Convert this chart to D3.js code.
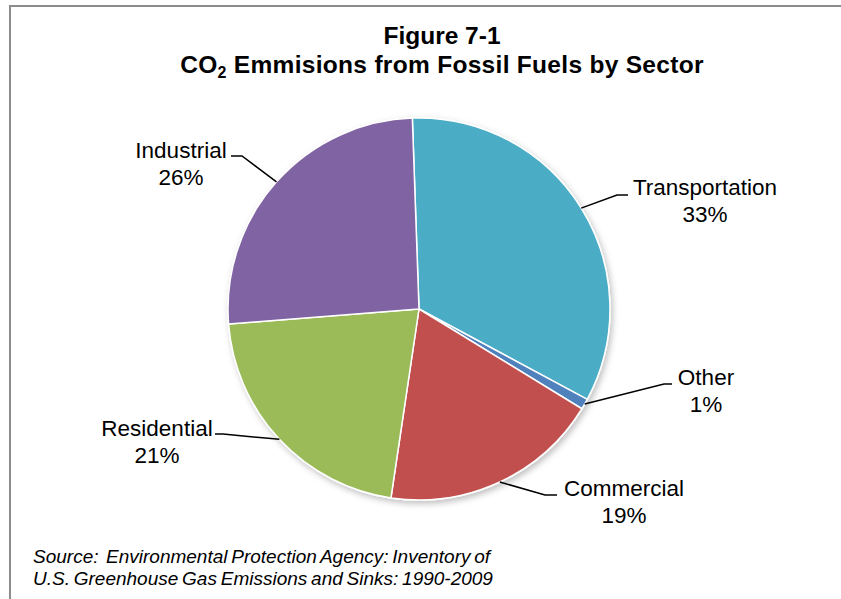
<!DOCTYPE html>
<html>
<head>
<meta charset="utf-8">
<script src="https://cdn.jsdelivr.net/npm/d3@7"></script>
<style>
  body { margin: 0; background: #fff; }
  text { font-family: "Liberation Sans", Arial, sans-serif; fill: #000; }
</style>
</head>
<body>
<script>
// Data
var sectors = ["Transportation", "Other", "Commercial", "Residential", "Industrial"]
var shares = [33.4, 0.9, 18.6, 21.4, 25.7]
var pctLabels = ["33%", "1%", "19%", "21%", "26%"]

var colors = ["#4BACC6", "#4F81BD", "#C0504D", "#9BBB59", "#8064A2"]

// label layout: text centre x, first baseline, leader elbow, leader end
var labelLayout = [
  {tx: 705, ty: 195, elbow: [617, 195], end: [628, 195]},
  {tx: 706, ty: 385, elbow: [664, 384], end: [672, 384]},
  {tx: 624, ty: 496, elbow: [545, 495], end: [557, 495]},
  {tx: 157, ty: 436, elbow: [223, 434], end: [215, 434]},
  {tx: 181, ty: 158, elbow: [242, 156], end: [231, 156]}
]

var width = 841, height = 599
var cx = 419, cy = 309, radius = 191

var svg = d3.select("body")
    .append("svg")
        .attr("width", width)
        .attr("height", height)

// drop shadow
var defs = svg.append("defs")
var f = defs.append("filter").attr("id", "shadow")
    .attr("x", "-10%").attr("y", "-10%").attr("width", "125%").attr("height", "125%")
f.append("feDropShadow")
    .attr("dx", 2).attr("dy", 3).attr("stdDeviation", 3)
    .attr("flood-color", "#000").attr("flood-opacity", 0.25)

// outer frame
svg.append("rect")
    .attr("x", 10).attr("y", 6)
    .attr("width", width + 20).attr("height", height + 20)
    .attr("fill", "none")
    .attr("stroke", "#8c8c8c")
    .attr("stroke-width", 2)

// title
var title = svg.append("text")
    .attr("text-anchor", "middle")
    .attr("font-weight", "bold")
    .attr("font-size", 24.5)
title.append("tspan").attr("x", 442).attr("y", 44).text("Figure 7-1")
var t2 = title.append("tspan").attr("x", 442).attr("y", 73).attr("letter-spacing", 0.3)
t2.append("tspan").text("CO")
t2.append("tspan").attr("font-size", 16).attr("dy", 5).text("2")
t2.append("tspan").attr("dy", -5).text(" Emmisions from Fossil Fuels by Sector")

// pie
var pie = d3.pie()
    .value(d => d)
    .sort(null)
    .startAngle(-2 * Math.PI / 180)
    .endAngle(2 * Math.PI - 2 * Math.PI / 180)

var arcs = pie(shares)

var arc = d3.arc().innerRadius(0).outerRadius(radius)
var edgeArc = d3.arc().innerRadius(radius).outerRadius(radius)

var g = svg.append("g")
    .attr("transform", "translate(" + cx + "," + cy + ")")

g.append("g")
    .attr("filter", "url(#shadow)")
  .selectAll("path")
    .data(arcs)
    .enter().append("path")
    .attr("d", arc)
    .attr("fill", (d, i) => colors[i])
    .attr("stroke", "#fff")
    .attr("stroke-width", 1.5)
    .attr("stroke-linejoin", "round")

// leader lines
svg.selectAll("polyline.leader")
    .data(arcs)
    .enter().append("polyline")
    .attr("class", "leader")
    .attr("points", (d, i) => {
      var c = edgeArc.centroid(d)
      var L = labelLayout[i]
      return [[cx + c[0], cy + c[1]], L.elbow, L.end].map(p => p.join(",")).join(" ")
    })
    .attr("fill", "none")
    .attr("stroke", "#000")
    .attr("stroke-width", 1.5)

// labels
var labels = svg.selectAll("text.lbl")
    .data(sectors)
    .enter().append("text")
    .attr("class", "lbl")
    .attr("text-anchor", "middle")
    .attr("font-size", 22.5)
labels.append("tspan")
    .attr("x", (d, i) => labelLayout[i].tx)
    .attr("y", (d, i) => labelLayout[i].ty)
    .text(d => d)
labels.append("tspan")
    .attr("x", (d, i) => labelLayout[i].tx)
    .attr("y", (d, i) => labelLayout[i].ty + 27)
    .text((d, i) => pctLabels[i])

// source note
var src = svg.append("text")
    .attr("font-style", "italic")
    .attr("font-size", 19)
    .attr("word-spacing", -1.5)
    .style("white-space", "pre")
src.append("tspan").attr("x", 33).attr("y", 563)
    .text("Source:  Environmental Protection Agency: Inventory of")
src.append("tspan").attr("x", 33).attr("y", 585)
    .text("U.S. Greenhouse Gas Emissions and Sinks: 1990-2009")
</script>
</body>
</html>
